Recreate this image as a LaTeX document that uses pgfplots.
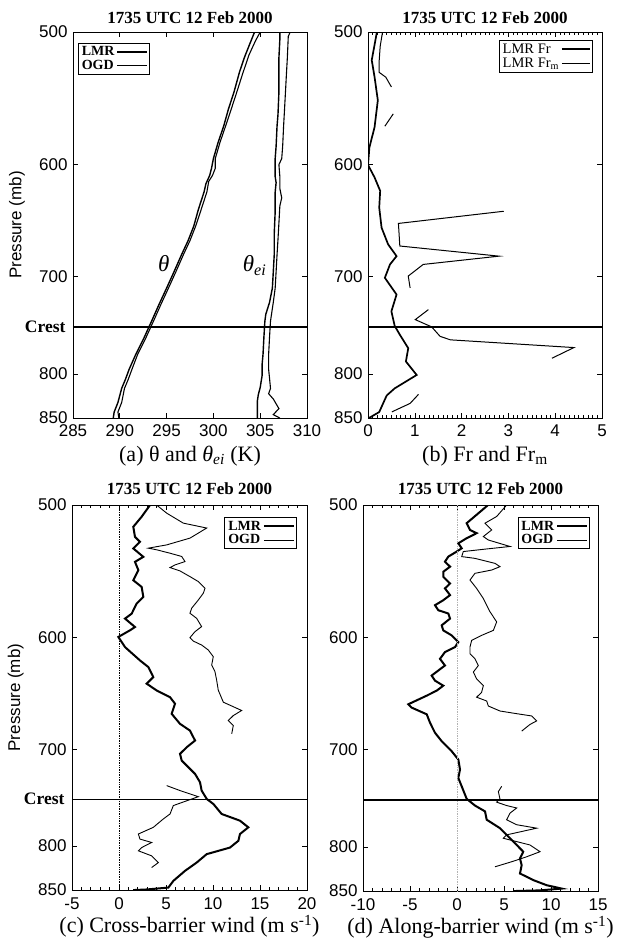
\documentclass[border=0pt]{standalone}
\usepackage{pgfplots}
\pgfplotsset{compat=1.18}
\usepackage{fontspec}
\setmainfont{Liberation Serif}
\setsansfont{Liberation Sans}
\begin{document}
\begin{tikzpicture}
\useasboundingbox (0pt,0pt) rectangle (616pt,-945pt);

% ---------------- (a) ----------------
\begin{axis}[ymode=log, y dir=reverse, ymin=500, ymax=850,
  scale only axis, width=234pt, height=386pt, at={(73pt,-32pt)}, anchor=north west,
  ytick={500,600,700,800,850}, yticklabels={500,600,700,800,850}, minor y tick num=0,
  tick label style={font=\sffamily\fontsize{17}{17}\selectfont},
  xticklabel style={yshift=-3pt}, yticklabel style={xshift=-2pt},
  major tick length=5pt, minor tick length=3pt,
  axis line style={line width=0.8pt}, every tick/.style={black, line width=0.6pt},
  legend cell align=left, legend plot pos=right,
  legend image code/.code={\draw[#1] (0pt,0pt) -- (30pt,0pt);},
  every axis title shift=0pt,
  title style={at={(axis description cs:0.5,1.036)}, anchor=center, font=\rmfamily\bfseries\fontsize{17}{17}\selectfont},
  xlabel style={at={(axis description cs:0.5,-0.098)}, anchor=center, font=\rmfamily\fontsize{22}{22}\selectfont},
  ylabel style={at={(axis description cs:-0.239,0.5)}, anchor=center, font=\sffamily\fontsize{17}{17}\selectfont},
  xmin=285, xmax=310, xtick={285,290,295,300,305,310}, xticklabels={285,290,295,300,305,310}, minor x tick num=0,
  title={1735 UTC 12 Feb 2000},
  xlabel={(a) θ and {\itshape θ}\textsubscript{\itshape ei} (K)},
  ylabel={Pressure (mb)},
  legend style={at={(0.021,0.972)}, anchor=north west, font=\rmfamily\bfseries\fontsize{14}{14}\selectfont, draw=black, line width=0.8pt, inner sep=1.5pt, row sep=-1pt}]
\addplot[black, line width=1.4pt] coordinates {
(304.4,500) (303.9,508) (303.3,518) (302.8,528) (302.2,543) (301.6,556) (301.1,569) (300.5,582) (300.0,595) (299.8,603) (299.6,609) (299.2,616) (299.0,623) (298.4,638) (297.9,653) (297.3,666) (296.6,679) (295.8,695) (295.0,711) (294.2,727) (293.4,744) (292.6,761) (291.7,779) (291.0,795) (290.6,806) (290.2,816) (289.8,832) (289.4,843) (289.3,850)};
\addlegendentry{LMR}
\addplot[black, line width=1.1pt] coordinates {
(305.0,500) (304.5,506) (303.8,516) (303.1,530) (302.5,543) (301.9,556) (301.3,569) (300.7,582) (300.2,595) (300.2,603) (299.9,609) (299.5,614) (299.3,623) (298.7,638) (298.1,653) (297.5,666) (296.8,679) (296.0,695) (295.2,711) (294.4,727) (293.6,744) (292.8,761) (291.9,779) (291.3,795) (290.9,806) (290.5,816) (290.2,832) (289.8,843) (289.9,850)};
\addlegendentry{OGD}
\addplot[black, line width=1.4pt, forget plot] coordinates {
(307.1,500) (307.1,505) (307.0,518) (307.0,543) (306.9,560) (306.8,569) (306.7,585) (306.6,595) (306.6,610) (306.7,615) (306.6,623) (306.6,640) (306.5,660) (306.5,679) (306.4,695) (306.3,711) (306.0,725) (305.6,737) (305.5,744) (305.4,760) (305.3,779) (305.2,790) (305.2,802) (305.0,815) (304.8,823) (304.7,830) (304.7,850)};
\addplot[black, line width=1.1pt, forget plot] coordinates {
(308.2,500) (308.0,503) (307.9,518) (307.8,530) (307.7,543) (307.6,556) (307.5,569) (307.4,585) (307.3,595) (307.0,600) (307.1,610) (307.1,620) (307.3,628) (307.1,635) (307.0,650) (306.9,665) (306.8,679) (306.7,695) (306.6,711) (306.4,725) (306.1,744) (306.0,760) (305.9,779) (305.9,795) (306.0,805) (306.1,816) (305.9,822) (306.4,828) (307.0,839) (306.4,846) (307.1,850)};
\addplot[black, line width=1.9pt, forget plot] coordinates {(285,750) (310,750)};
\node[font=\rmfamily\itshape\fontsize{23}{23}\selectfont] at (axis cs:294.7,687) {θ};
\node[font=\rmfamily\fontsize{23}{23}\selectfont] at (axis cs:304.4,689) {{\itshape θ}\textsubscript{\itshape ei}};
\coordinate (crestA) at (axis cs:285,750);
\end{axis}
\node[anchor=east, font=\rmfamily\bfseries\fontsize{17.5}{17.5}\selectfont, xshift=-4pt] at (crestA) {Crest};

% ---------------- (b) ----------------
\begin{axis}[ymode=log, y dir=reverse, ymin=500, ymax=850,
  scale only axis, width=234pt, height=386pt, at={(368pt,-32pt)}, anchor=north west,
  ytick={500,600,700,800,850}, yticklabels={500,600,700,800,850}, minor y tick num=0,
  tick label style={font=\sffamily\fontsize{17}{17}\selectfont},
  xticklabel style={yshift=-3pt}, yticklabel style={xshift=-2pt},
  major tick length=5pt, minor tick length=3pt,
  axis line style={line width=0.8pt}, every tick/.style={black, line width=0.6pt},
  legend cell align=left, legend plot pos=right,
  legend image code/.code={\draw[#1] (0pt,0pt) -- (28pt,0pt);},
  every axis title shift=0pt,
  title style={at={(axis description cs:0.5,1.036)}, anchor=center, font=\rmfamily\bfseries\fontsize{17}{17}\selectfont},
  xlabel style={at={(axis description cs:0.5,-0.098)}, anchor=center, font=\rmfamily\fontsize{22}{22}\selectfont},
  xmin=0, xmax=5, xtick={0,1,2,3,4,5}, xticklabels={0,1,2,3,4,5}, minor x tick num=9,
  title={1735 UTC 12 Feb 2000},
  xlabel={(b) Fr and Fr\textsubscript{m}},
  legend style={at={(0.96,0.98)}, anchor=north east, font=\rmfamily\fontsize{14.5}{14.5}\selectfont, draw=black, line width=0.8pt, inner sep=1.5pt, row sep=-1pt}]
\addplot[black, line width=1.7pt] coordinates {
(0.19,500) (0.08,519.7) (0.14,531.8) (0.21,549.2) (0.14,569.9) (0.03,585.9) (0.0,600.2) (0.14,610.6) (0.26,622.0) (0.24,636.5) (0.29,654.3) (0.43,669.5) (0.61,680.4) (0.47,688.2) (0.36,701.0) (0.61,717.3) (0.50,734.1) (0.57,748.9) (0.68,758.0) (0.86,772.2) (0.81,786.5) (1.04,801.1) (0.57,816.0) (0.40,824) (0.34,831) (0.24,843) (0.05,849) (0.0,850)};
\addlegendentry{LMR Fr}
\addplot[black, line width=1.0pt] coordinates {
(0.31,500) (0.26,510) (0.24,519.7) (0.24,528.5) (0.38,532) (0.50,539.2)};
\addlegendentry{LMR Fr\textsubscript{m}}
\addplot[black, line width=1.0pt, forget plot] coordinates {(0.54,559.5) (0.36,569.1)};
\addplot[black, line width=1.0pt, forget plot] coordinates {
(2.90,639.7) (0.65,650.5) (0.68,671) (2.80,680.4) (1.18,688.2) (0.86,699.3) (0.90,710.8)};
\addplot[black, line width=1.0pt, forget plot] coordinates {
(1.29,732.3) (1.01,742.5) (1.36,749.9) (1.54,759.7) (1.76,763.4) (4.40,771.6) (3.93,783.0)};
\addplot[black, line width=1.0pt, forget plot] coordinates {(1.08,822.7) (0.90,833) (0.51,842.8)};
\addplot[black, line width=1.9pt, forget plot] coordinates {(0,750) (5,750)};
\end{axis}

% ---------------- (c) ----------------
\begin{axis}[ymode=log, y dir=reverse, ymin=500, ymax=850,
  scale only axis, width=235pt, height=385pt, at={(72pt,-505pt)}, anchor=north west,
  ytick={500,600,700,800,850}, yticklabels={500,600,700,800,850}, minor y tick num=0,
  tick label style={font=\sffamily\fontsize{17}{17}\selectfont},
  xticklabel style={yshift=-4pt}, yticklabel style={xshift=-2pt},
  major tick length=5pt, minor tick length=3pt,
  axis line style={line width=0.8pt}, every tick/.style={black, line width=0.6pt},
  legend cell align=left, legend plot pos=right,
  legend image code/.code={\draw[#1] (0pt,0pt) -- (30pt,0pt);},
  every axis title shift=0pt,
  title style={at={(axis description cs:0.5,1.042)}, anchor=center, font=\rmfamily\bfseries\fontsize{17}{17}\selectfont},
  xlabel style={at={(axis description cs:0.5,-0.094)}, anchor=center, font=\rmfamily\fontsize{22}{22}\selectfont},
  ylabel style={at={(axis description cs:-0.239,0.5)}, anchor=center, font=\sffamily\fontsize{17}{17}\selectfont},
  xmin=-5, xmax=20, xtick={-5,0,5,10,15,20}, xticklabels={-5,0,5,10,15,20}, minor x tick num=4,
  title={1735 UTC 12 Feb 2000},
  xlabel={(c) Cross-barrier wind (m s\textsuperscript{-1})},
  ylabel={Pressure (mb)},
  legend style={at={(0.957,0.969)}, anchor=north east, font=\rmfamily\bfseries\fontsize{14}{14}\selectfont, draw=black, line width=0.8pt, inner sep=1.5pt, row sep=-1pt}]
\addplot[black, line width=2.0pt] coordinates {
(3.30,500) (2.41,508.1) (1.52,515.2) (1.70,522.4) (2.23,526.0) (1.52,530.8) (2.59,537.0) (1.70,540.7) (2.06,546.9) (1.52,554.6) (2.41,559.7) (2.59,567.5) (1.88,572.7) (1.35,580.7) (0.64,584.7) (1.70,591.5) (1.17,594.2) (-0.07,599.7) (0.64,608.1) (2.23,619.4) (3.12,625.1) (3.65,633.8) (2.94,639.6) (4.01,645.6) (5.43,651.6) (5.96,657.5) (5.60,666.7) (6.49,676.0) (7.55,682.3) (8.09,691.7) (7.20,698.2) (6.49,704.6) (6.67,711.1) (8.09,724.3) (8.62,732.7) (8.79,741.1) (9.33,749.7) (10.04,755.0) (10.92,765.4) (12.87,772.6) (13.76,779.7) (12.87,786.9) (12.70,794.2) (11.81,801.6) (9.33,808.9) (8.26,818.4) (7.02,827.8) (5.78,839.3) (5.25,847.1) (2.94,849.3) (1.5,850)};
\addlegendentry{LMR}
\addplot[black, line width=0.9pt] coordinates {
(4.01,500) (5.07,505.6) (6.84,512.6) (9.33,516.1) (7.55,523.3) (5.07,528.2) (3.12,530.6) (4.01,531.8) (5.43,534.3) (6.67,536.7) (7.02,540.5) (5.96,543.0) (5.43,545.0) (6.49,547.5) (7.55,551.8) (8.44,555.6) (9.15,560.7) (8.97,564.6) (8.44,569.9) (7.73,576.4) (7.55,580.4) (8.26,584.5) (8.79,591.2) (8.09,595.3) (7.55,600.2) (7.90,603.1) (8.79,606.4) (9.50,610.6) (10.03,616.2) (9.86,623.4) (10.21,629.1) (10.39,636.5) (10.56,645.3) (11.10,656.1) (13.05,663.6) (12.16,668.3) (11.63,672.9) (12.16,677.6) (11.99,685.4)};
\addlegendentry{OGD}
\addplot[black, line width=0.9pt, forget plot] coordinates {
(5.07,736.1) (6.49,741.1) (8.44,747.4) (7.02,752.3) (5.78,756.7) (5.43,765.4) (4.72,770.7) (3.65,779.7) (2.06,786.9) (2.23,792.4) (3.47,796.1) (2.41,801.6) (2.06,805.2) (3.47,810.8) (4.19,818.4) (3.47,824.0)};
\addplot[black, densely dotted, line width=0.7pt, forget plot] coordinates {(0,500) (0,850)};
\addplot[black, line width=1.2pt, forget plot] coordinates {(-5,750) (20,750)};
\coordinate (crestC) at (axis cs:-5,750);
\end{axis}
\node[anchor=east, font=\rmfamily\bfseries\fontsize{17.5}{17.5}\selectfont, xshift=-4pt] at (crestC) {Crest};

% ---------------- (d) ----------------
\begin{axis}[ymode=log, y dir=reverse, ymin=500, ymax=850,
  scale only axis, width=235pt, height=386pt, at={(363pt,-505pt)}, anchor=north west,
  ytick={500,600,700,800,850}, yticklabels={500,600,700,800,850}, minor y tick num=0,
  tick label style={font=\sffamily\fontsize{17}{17}\selectfont},
  xticklabel style={yshift=-4pt}, yticklabel style={xshift=-2pt},
  major tick length=5pt, minor tick length=3pt,
  axis line style={line width=0.8pt}, every tick/.style={black, line width=0.6pt},
  legend cell align=left, legend plot pos=right,
  legend image code/.code={\draw[#1] (0pt,0pt) -- (30pt,0pt);},
  every axis title shift=0pt,
  title style={at={(axis description cs:0.5,1.042)}, anchor=center, font=\rmfamily\bfseries\fontsize{17}{17}\selectfont},
  xlabel style={at={(axis description cs:0.5,-0.094)}, anchor=center, font=\rmfamily\fontsize{22}{22}\selectfont},
  xmin=-10, xmax=15, xtick={-10,-5,0,5,10,15}, xticklabels={-10,-5,0,5,10,15}, minor x tick num=4,
  title={1735 UTC 12 Feb 2000},
  xlabel={(d) Along-barrier wind (m s\textsuperscript{-1})},
  legend style={at={(0.966,0.969)}, anchor=north east, font=\rmfamily\bfseries\fontsize{14}{14}\selectfont, draw=black, line width=0.8pt, inner sep=1.5pt, row sep=-1pt}]
\addplot[black, line width=2.0pt] coordinates {
(3.30,500) (2.09,506.7) (1.03,512.6) (1.38,517.4) (2.09,519.7) (1.03,523.3) (0.14,527.0) (0.50,530.6) (-0.03,533.0) (-0.92,536.7) (-1.28,540.5) (-0.74,544.2) (-1.46,548.0) (-1.46,551.8) (-0.74,556.9) (-1.28,560.7) (-0.74,565.9) (-1.46,569.9) (-2.34,573.8) (-1.99,577.8) (-0.92,580.4) (-0.74,584.5) (-1.63,589.9) (-1.46,594.0) (-0.57,598.1) (0.14,603.6) (-0.21,607.8) (-1.28,612.0) (-1.81,617.7) (-1.28,623.4) (-1.99,627.7) (-2.70,632.1) (-2.34,636.5) (-1.46,640.9) (-2.16,645.3) (-3.22,649.8) (-5.18,657.5) (-4.82,660.6) (-3.22,666.7) (-2.87,674.5) (-2.34,683.8) (-1.63,691.7) (-0.57,701.3) (0.14,709.4) (0.32,719.3) (0.14,727.7) (0.50,736.1) (1.03,748.8) (1.91,755.8) (2.98,761.9) (3.16,770.7) (4.57,779.7) (5.46,788.7) (6.35,797.9) (7.05,805.2) (6.70,812.7) (6.88,820.2) (6.70,829.7) (8.12,837.3) (9.54,843.2) (11.14,847.1) (8.83,849.2) (6.0,850)};
\addlegendentry{LMR}
\addplot[black, line width=0.9pt] coordinates {
(5.28,500) (4.22,507.9) (2.98,512.6) (3.69,517.4) (2.80,522.1) (3.33,524.6) (5.64,529.3) (3.16,531.1) (0.67,533.0) (0.50,536.7) (1.91,538.0) (4.04,541.7) (4.57,544.2) (3.69,546.7) (1.91,549.2) (1.38,554.3) (2.09,560.7) (2.80,568.5) (3.51,579.0) (4.22,587.1) (3.87,594.0) (2.62,598.1) (1.56,602.2) (1.38,607.8) (1.38,613.4) (1.91,617.6) (2.27,623.4) (1.74,629.1) (2.09,635.0) (2.80,640.9) (2.62,646.8) (2.09,651.2) (3.16,654.6) (3.33,659.1) (4.57,663.6) (6.35,666.1) (7.95,668.2) (8.48,672.7) (7.77,676.0) (6.88,682.3)};
\addlegendentry{OGD}
\addplot[black, line width=0.9pt, forget plot] coordinates {
(4.75,736.1) (4.40,741.5) (4.57,748.8) (4.22,752.3) (5.28,755.8) (6.35,758.4) (5.64,763.7) (5.28,770.7) (6.35,776.0) (8.48,779.7) (5.28,786.9) (4.93,790.6) (6.35,794.2) (7.77,797.9) (8.83,805.2) (7.42,810.8) (5.82,816.4) (4.04,822.1)};
\addplot[gray!60, densely dotted, line width=0.7pt, forget plot] coordinates {(0,500) (0,850)};
\addplot[black, line width=1.2pt, forget plot] coordinates {(-10,750) (15,750)};
\end{axis}
\end{tikzpicture}
\end{document}
